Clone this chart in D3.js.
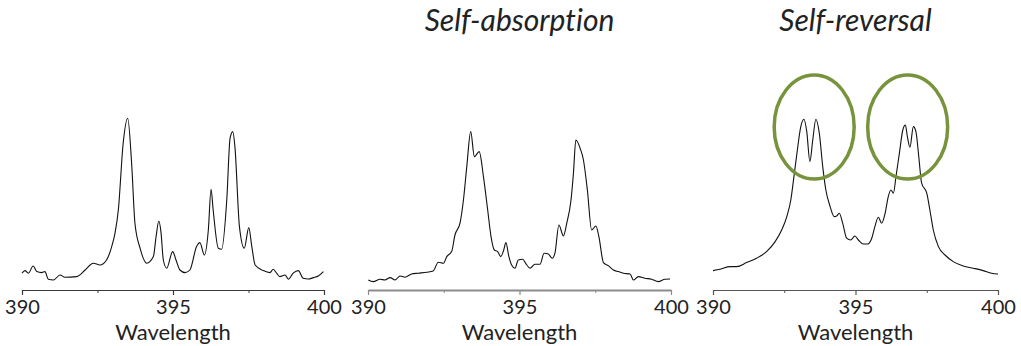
<!DOCTYPE html>
<html><head><meta charset="utf-8">
<script src="https://cdn.jsdelivr.net/npm/d3@7"></script>
<style>html,body{margin:0;padding:0;background:#fff;} svg{display:block;} text{font-variant-ligatures:none;font-feature-settings:"liga" 0,"clig" 0;}</style>
</head><body>
<svg id="c" width="1021" height="346"></svg>
<script>
// ---- data ----
const xTicks = [390, 395, 400];
const xMinorTicks = [392.5, 397.5];
const xLabel = "Wavelength";
const titles = ["", "Self-absorption", "Self-reversal"];

const wl1 = [390.0,390.1,390.21,390.37,390.49,390.65,390.76,390.87,391.04,391.26,391.42,391.81,392.09,392.36,392.58,392.8,392.97,393.08,393.19,393.35,393.5,393.63,393.74,393.91,394.13,394.35,394.44,394.53,394.6,394.68,394.79,394.99,395.1,395.23,395.4,395.56,395.78,395.89,396.04,396.17,396.26,396.33,396.5,396.61,396.78,396.89,396.98,397.05,397.2,397.36,397.51,397.61,397.72,397.99,398.21,398.32,398.43,398.54,398.71,398.82,398.98,399.15,399.31,399.48,399.65,399.81,399.98];
const int1 = [0.059,0.072,0.059,0.095,0.067,0.062,0.067,0.029,0.025,0.05,0.039,0.042,0.075,0.109,0.1,0.125,0.192,0.259,0.375,0.709,0.834,0.609,0.309,0.184,0.109,0.142,0.242,0.32,0.267,0.125,0.084,0.167,0.125,0.075,0.062,0.075,0.192,0.212,0.15,0.275,0.479,0.375,0.184,0.179,0.425,0.734,0.767,0.692,0.292,0.184,0.287,0.192,0.1,0.072,0.062,0.079,0.059,0.042,0.05,0.029,0.059,0.072,0.034,0.03,0.037,0.045,0.067];

const wl2 = [390.01,390.17,390.4,390.56,390.73,390.89,391.06,391.22,391.44,391.66,391.94,392.15,392.32,392.49,392.6,392.76,392.87,393.04,393.15,393.26,393.39,393.51,393.67,393.81,393.95,394.06,394.17,394.28,394.38,394.48,394.55,394.65,394.74,394.85,394.96,395.11,395.2,395.35,395.51,395.68,395.81,395.95,396.08,396.17,396.3,396.45,396.56,396.7,396.78,396.86,397.0,397.11,397.24,397.38,397.52,397.62,397.77,397.93,398.1,398.26,398.43,398.65,398.76,398.92,399.14,399.36,399.58,399.8,399.97];
const int2 = [0.025,0.017,0.029,0.025,0.037,0.025,0.045,0.039,0.055,0.059,0.064,0.07,0.114,0.109,0.142,0.167,0.25,0.312,0.425,0.592,0.767,0.642,0.667,0.542,0.375,0.242,0.175,0.167,0.142,0.175,0.212,0.142,0.1,0.084,0.125,0.129,0.109,0.084,0.104,0.104,0.159,0.155,0.134,0.159,0.3,0.245,0.309,0.425,0.559,0.725,0.684,0.625,0.475,0.275,0.295,0.242,0.112,0.097,0.075,0.067,0.059,0.055,0.025,0.042,0.034,0.029,0.017,0.029,0.03];

const wl3 = [390.0,390.25,390.6,390.83,391.18,391.53,391.88,392.18,392.41,392.59,392.73,392.84,392.96,393.08,393.19,393.29,393.4,393.5,393.61,393.73,393.85,393.96,394.11,394.25,394.34,394.43,394.55,394.69,394.83,394.98,395.1,395.27,395.43,395.57,395.68,395.8,395.92,396.04,396.15,396.24,396.33,396.42,396.54,396.66,396.75,396.82,396.91,397.03,397.12,397.22,397.32,397.5,397.61,397.73,397.91,398.14,398.43,398.78,399.13,399.48,399.78,400.0];
const int3 = [0.072,0.079,0.092,0.092,0.112,0.134,0.167,0.217,0.275,0.342,0.425,0.542,0.675,0.792,0.829,0.767,0.617,0.725,0.829,0.759,0.592,0.475,0.392,0.342,0.345,0.359,0.309,0.234,0.225,0.245,0.225,0.205,0.205,0.234,0.292,0.339,0.309,0.359,0.442,0.475,0.459,0.542,0.659,0.775,0.8,0.742,0.689,0.792,0.767,0.642,0.509,0.459,0.375,0.275,0.192,0.15,0.117,0.095,0.084,0.072,0.059,0.055];

// self-reversal highlight ellipses (centre wavelength, centre intensity)
const ringWl = [393.55, 396.83];
const ringInt = [0.79, 0.79];

// ---- layout ----
const svg = d3.select("#c");
const font = "Lato, 'Open Sans', sans-serif";
const panels = [
  {wl: wl1, it: int1, x0: 22, x1: 324, axis: "#3a3a3a", aw: 1.2},
  {wl: wl2, it: int2, x0: 368, x1: 671, axis: "#8c8c8c", aw: 2},
  {wl: wl3, it: int3, x0: 713, x1: 998, axis: "#555", aw: 1.2}
];
const axisY = 290;
const y = d3.scaleLinear().domain([0, 1]).range([285, 85]);

panels.forEach((p, i) => {
  const x = d3.scaleLinear().domain([390, 400]).range([p.x0, p.x1]);
  const g = svg.append("g");

  // minor ticks
  const gm = g.append("g").attr("transform", `translate(0,${axisY})`)
    .call(d3.axisBottom(x).tickValues(xMinorTicks).tickSize(3).tickSizeOuter(0).tickFormat(""));
  gm.select(".domain").remove();
  gm.selectAll("line").attr("stroke", p.axis).attr("stroke-width", 1);

  // major axis
  const ga = g.append("g").attr("transform", `translate(0,${axisY})`)
    .call(d3.axisBottom(x).tickValues(xTicks).tickSize(5).tickSizeOuter(0).tickPadding(5).tickFormat(d3.format("d")));
  ga.select(".domain").attr("stroke", p.axis).attr("stroke-width", p.aw);
  ga.selectAll(".tick line").attr("stroke", p.axis).attr("stroke-width", 1.2);
  ga.selectAll(".tick text").attr("fill", "#222").style("font-family", font).style("font-size", "20px");

  // x label
  g.append("text").attr("x", (p.x0 + p.x1) / 2).attr("y", 340)
    .attr("text-anchor", "middle").attr("fill", "#222")
    .style("font-family", font).style("font-size", "22px").text(xLabel);

  // title
  if (titles[i]) {
    g.append("text").attr("x", (p.x0 + p.x1) / 2).attr("y", 31)
      .attr("text-anchor", "middle").attr("fill", "#222")
      .style("font-family", font).style("font-style", "italic").style("font-size", "30px").text(titles[i]);
  }

  // spectrum
  const data = p.wl.map((w, k) => [w, p.it[k]]);
  g.append("path").datum(data)
    .attr("fill", "none").attr("stroke", "#111").attr("stroke-width", 1.1)
    .attr("stroke-linejoin", "round")
    .attr("d", d3.line().x(d => x(d[0])).y(d => y(d[1])).curve(d3.curveMonotoneX));

  if (i === 2) {
    g.selectAll("ellipse").data(ringWl).join("ellipse")
      .attr("cx", d => x(d)).attr("cy", (d, k) => y(ringInt[k]))
      .attr("rx", 40).attr("ry", 52)
      .attr("fill", "none").attr("stroke", "#77933c").attr("stroke-width", 3.5);
  }
});
</script>
</body></html>
